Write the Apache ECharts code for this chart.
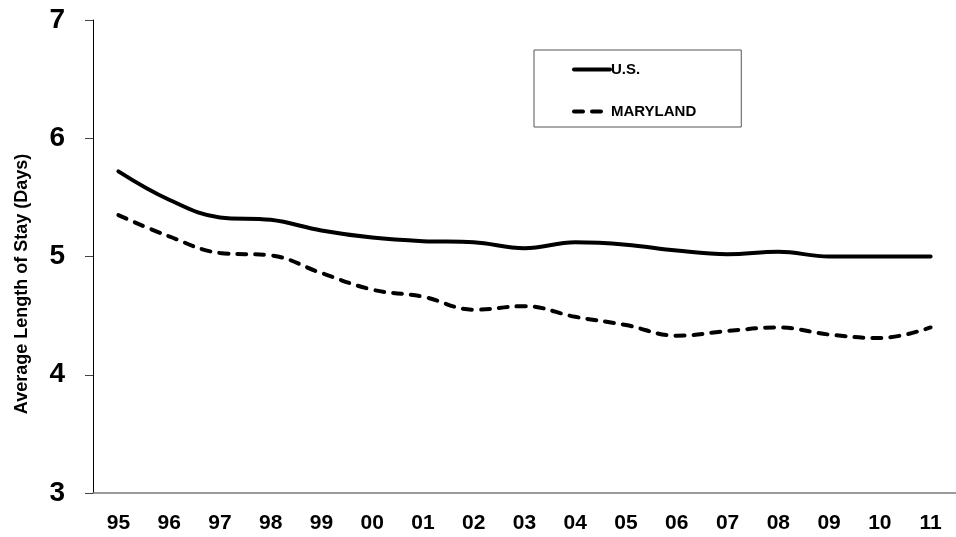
<!DOCTYPE html>
<html>
<head>
<meta charset="utf-8">
<script src="https://cdn.jsdelivr.net/npm/echarts@6/dist/echarts.min.js"></script>
<style>
html,body{margin:0;padding:0;background:#fff;}
#chart{width:956px;height:537px;}
</style>
</head>
<body>
<div id="chart"></div>
<script>
var categories = ['95','96','97','98','99','00','01','02','03','04','05','06','07','08','09','10','11'];
var usValues = [5.72,5.48,5.33,5.31,5.22,5.16,5.13,5.12,5.07,5.12,5.10,5.05,5.02,5.04,5.00,5.00,5.00];
var marylandValues = [5.35,5.17,5.03,5.01,4.86,4.72,4.66,4.55,4.58,4.49,4.42,4.33,4.37,4.40,4.34,4.31,4.40];
var yTicks = [3,4,5,6,7];
var yAxisTitle = 'Average Length of Stay (Days)';

var chart = echarts.init(document.getElementById('chart'));
var fontFam = '"Liberation Sans", Arial, sans-serif';
chart.setOption({
  animation: false,
  backgroundColor: '#fff',
  grid: { left: 93, top: 20, width: 870, height: 473, containLabel: false },
  legend: {
    orient: 'vertical',
    left: 534, top: 50,
    padding: [12, 45, 8, 38],
    itemGap: 27,
    itemWidth: 36,
    itemHeight: 15,
    borderColor: '#555',
    borderWidth: 1,
    itemStyle: { opacity: 0 },
    lineStyle: { width: 4 },
    textStyle: { fontFamily: fontFam, fontWeight: 'bold', fontSize: 15, color: '#000', padding: [0,0,0,-4] },
    data: [{ name: 'U.S.' }, { name: 'MARYLAND' }]
  },
  xAxis: {
    type: 'category',
    data: categories,
    boundaryGap: true,
    axisLine: { lineStyle: { color: '#7a7a7a', width: 1.5 } },
    axisTick: { length: 7, lineStyle: { color: '#444' } },
    axisLabel: { margin: 20, fontFamily: fontFam, fontWeight: 'bold', fontSize: 21, color: '#000' }
  },
  yAxis: {
    type: 'value',
    min: yTicks[0], max: yTicks[yTicks.length-1], interval: 1,
    splitLine: { show: false },
    axisLine: { show: true, lineStyle: { color: '#000', width: 1 } },
    axisTick: { show: true, length: 8, lineStyle: { color: '#444' } },
    axisLabel: { margin: 28, fontFamily: fontFam, fontWeight: 'bold', fontSize: 28, color: '#000' }
  },
  graphic: [{
    type: 'text',
    x: 22, y: 284,
    rotation: Math.PI / 2,
    style: {
      text: yAxisTitle,
      fontFamily: fontFam, fontWeight: 'bold', fontSize: 18, fill: '#000',
      align: 'center', verticalAlign: 'middle'
    }
  }],
  series: [
    {
      name: 'U.S.', type: 'line', data: usValues, smooth: 0.4,
      symbol: 'none', showSymbol: false,
      lineStyle: { color: '#000', width: 4, type: 'solid', cap: 'round' },
      itemStyle: { color: '#000' }
    },
    {
      name: 'MARYLAND', type: 'line', data: marylandValues, smooth: 0.4,
      symbol: 'none', showSymbol: false,
      lineStyle: { color: '#000', width: 4, type: [9, 9], cap: 'round' },
      itemStyle: { color: '#000' }
    }
  ]
});
</script>
</body>
</html>
